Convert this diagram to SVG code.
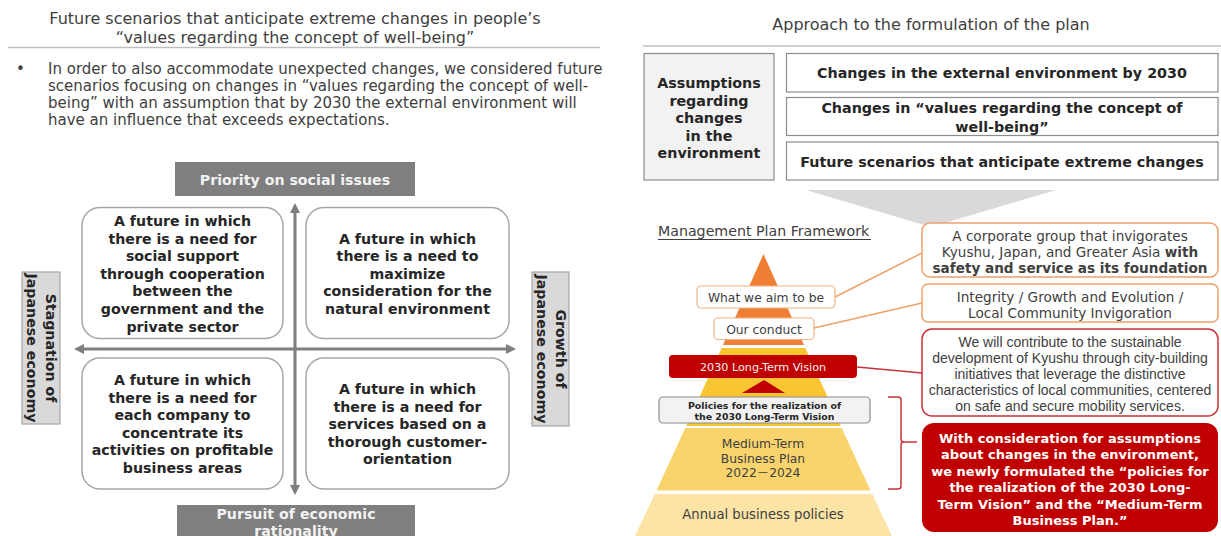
<svg xmlns="http://www.w3.org/2000/svg" width="1221" height="536" viewBox="0 0 1221 536">
  <defs>
    <style>
      .txt { font-family: "DejaVu Sans", "Noto Sans", "Noto Sans CJK JP", sans-serif; fill: #404040; }
      .bold { font-weight: bold; }
      .mid { text-anchor: middle; }
      .title { font-size: 16px; }
      .para { font-size: 15px; }
      .quad-box { fill: #ffffff; stroke: #a6a6a6; stroke-width: 1.5; }
      .quad-txt { font-size: 14.2px; font-weight: bold; fill: #262626; text-anchor: middle; }
      .axis-box { fill: #7f7f7f; }
      .axis-txt { font-size: 14.2px; font-weight: bold; fill: #f2f2f2; text-anchor: middle; }
      .side-box { fill: #d9d9d9; stroke: #a6a6a6; stroke-width: 1.2; }
      .side-txt { font-size: 14.2px; font-weight: bold; fill: #262626; text-anchor: middle; }
      .rule { stroke: #bfbfbf; stroke-width: 1.5; }
      .plain-box { fill: #ffffff; stroke: #8c8c8c; stroke-width: 1.2; }
      .box-txt { font-size: 14.3px; font-weight: bold; fill: #262626; text-anchor: middle; }
      .label-box { fill: #ffffff; stroke: #f4b183; stroke-width: 1.2; }
      .note-orange { fill: #ffffff; stroke: #f0a06a; stroke-width: 1.5; }
      .note-red { fill: #ffffff; stroke: #c8323a; stroke-width: 1.5; }
      .arial { font-family: "Liberation Sans", Arial, sans-serif; }
      .axis { stroke: #7f7f7f; stroke-width: 3; fill: none; }
      .link-orange { stroke: #f0a06a; stroke-width: 1.5; fill: none; }
      .link-red { stroke: #c8323a; stroke-width: 1.5; fill: none; }
    </style>
    <marker id="axisHead" viewBox="0 0 10 10" refX="7" refY="5" markerWidth="3.4" markerHeight="3.4" orient="auto-start-reverse" markerUnits="strokeWidth">
      <path d="M0,0 L10,5 L0,10 Z" fill="#7f7f7f"/>
    </marker>
  </defs>

  <rect x="0" y="0" width="1221" height="536" fill="#ffffff"/>

  <!-- ===== Left panel: future scenarios ===== -->
  <g id="left-heading">
    <text class="txt title mid" x="295" y="23.5">Future scenarios that anticipate extreme changes in people’s</text>
    <text class="txt title mid" x="295" y="43">“values regarding the concept of well-being”</text>
    <line class="rule" x1="8" y1="47.5" x2="600" y2="47.5"/>
  </g>

  <g id="left-bullet">
    <text class="txt para" x="16" y="74">•</text>
    <text class="txt para" x="48" y="74">In order to also accommodate unexpected changes, we considered future</text>
    <text class="txt para" x="48" y="91">scenarios focusing on changes in “values regarding the concept of well-</text>
    <text class="txt para" x="48" y="108">being” with an assumption that by 2030 the external environment will</text>
    <text class="txt para" x="48" y="125">have an influence that exceeds expectations.</text>
  </g>

  <!-- axes -->
  <g id="connectors-axes">
    <line class="axis" x1="295" y1="206" x2="295" y2="492" marker-start="url(#axisHead)" marker-end="url(#axisHead)"/>
    <line class="axis" x1="77" y1="349" x2="513" y2="349" marker-start="url(#axisHead)" marker-end="url(#axisHead)"/>
  </g>

  <g id="axis-top">
    <rect class="axis-box" x="175" y="162" width="240" height="34"/>
    <text class="txt axis-txt" x="295" y="185">Priority on social issues</text>
  </g>
  <g id="axis-bottom">
    <rect class="axis-box" x="177" y="505" width="238" height="40"/>
    <text class="txt axis-txt" x="296" y="518.5">Pursuit of economic</text>
    <text class="txt axis-txt" x="296" y="536">rationality</text>
  </g>
  <g id="axis-left">
    <rect class="side-box" x="22" y="272" width="38" height="152"/>
    <g transform="translate(45.5,348) rotate(90)">
      <text class="txt side-txt" x="0" y="0">Stagnation of</text>
      <text class="txt side-txt" x="0" y="18.5">Japanese economy</text>
    </g>
  </g>
  <g id="axis-right">
    <rect class="side-box" x="532" y="272" width="37" height="154"/>
    <g transform="translate(555.5,349) rotate(90)">
      <text class="txt side-txt" x="0" y="0">Growth of</text>
      <text class="txt side-txt" x="0" y="18.5">Japanese economy</text>
    </g>
  </g>

  <g id="quad-top-left">
    <rect class="quad-box" x="82" y="207.5" width="201" height="131" rx="18"/>
    <text class="txt quad-txt" x="182.5" y="226">A future in which</text>
    <text class="txt quad-txt" x="182.5" y="243.6">there is a need for</text>
    <text class="txt quad-txt" x="182.5" y="261.2">social support</text>
    <text class="txt quad-txt" x="182.5" y="278.8">through cooperation</text>
    <text class="txt quad-txt" x="182.5" y="296.4">between the</text>
    <text class="txt quad-txt" x="182.5" y="314">government and the</text>
    <text class="txt quad-txt" x="182.5" y="331.6">private sector</text>
  </g>
  <g id="quad-top-right">
    <rect class="quad-box" x="306" y="207.5" width="203" height="131" rx="18"/>
    <text class="txt quad-txt" x="407.5" y="243.6">A future in which</text>
    <text class="txt quad-txt" x="407.5" y="261.2">there is a need to</text>
    <text class="txt quad-txt" x="407.5" y="278.8">maximize</text>
    <text class="txt quad-txt" x="407.5" y="296.4">consideration for the</text>
    <text class="txt quad-txt" x="407.5" y="314">natural environment</text>
  </g>
  <g id="quad-bottom-left">
    <rect class="quad-box" x="82" y="358" width="201" height="131" rx="18"/>
    <text class="txt quad-txt" x="182.5" y="385">A future in which</text>
    <text class="txt quad-txt" x="182.5" y="402.6">there is a need for</text>
    <text class="txt quad-txt" x="182.5" y="420.2">each company to</text>
    <text class="txt quad-txt" x="182.5" y="437.8">concentrate its</text>
    <text class="txt quad-txt" x="182.5" y="455.4">activities on profitable</text>
    <text class="txt quad-txt" x="182.5" y="473">business areas</text>
  </g>
  <g id="quad-bottom-right">
    <rect class="quad-box" x="306" y="358" width="203" height="131" rx="18"/>
    <text class="txt quad-txt" x="407.5" y="394">A future in which</text>
    <text class="txt quad-txt" x="407.5" y="411.6">there is a need for</text>
    <text class="txt quad-txt" x="407.5" y="429.2">services based on a</text>
    <text class="txt quad-txt" x="407.5" y="446.8">thorough customer-</text>
    <text class="txt quad-txt" x="407.5" y="464.4">orientation</text>
  </g>

  <!-- ===== Right panel: plan formulation ===== -->
  <g id="right-heading">
    <text class="txt title mid" x="931" y="30">Approach to the formulation of the plan</text>
    <line class="rule" x1="643" y1="46" x2="1221" y2="46"/>
  </g>

  <g id="assumptions">
    <rect x="644" y="53.5" width="130" height="126.5" fill="#f2f2f2" stroke="#8c8c8c" stroke-width="1.2"/>
    <text class="txt box-txt" x="709" y="88">Assumptions</text>
    <text class="txt box-txt" x="709" y="105.5">regarding</text>
    <text class="txt box-txt" x="709" y="123">changes</text>
    <text class="txt box-txt" x="709" y="140.5">in the</text>
    <text class="txt box-txt" x="709" y="158">environment</text>
  </g>
  <g id="change-external">
    <rect class="plain-box" x="786.5" y="53.5" width="431.5" height="38.5"/>
    <text class="txt box-txt" x="1002" y="78">Changes in the external environment by 2030</text>
  </g>
  <g id="change-values">
    <rect class="plain-box" x="786.5" y="97.5" width="431.5" height="38"/>
    <text class="txt box-txt" x="1002" y="113">Changes in “values regarding the concept of</text>
    <text class="txt box-txt" x="1002" y="132">well-being”</text>
  </g>
  <g id="change-scenarios">
    <rect class="plain-box" x="786.5" y="142" width="431.5" height="38"/>
    <text class="txt box-txt" x="1002" y="167">Future scenarios that anticipate extreme changes</text>
  </g>

  <g id="flow-chevron">
    <path d="M806,190 L1056,190 L931,227 Z" fill="#d9d9d9"/>
  </g>

  <g id="framework-title">
    <text class="txt" x="658" y="236" font-size="14.2">Management Plan Framework</text>
    <line x1="658" y1="239.5" x2="871" y2="239.5" stroke="#404040" stroke-width="1"/>
  </g>

  <!-- pyramid bands -->
  <g id="pyramid">
    <path d="M763.5,254 L804,345 L723,345 Z" fill="#ef7f35"/>
    <path d="M721.7,348 L805.3,348 L840.8,426 L686.2,426 Z" fill="#fac533"/>
    <path d="M685.3,428 L841.7,428 L870.5,490.5 L656.5,490.5 Z" fill="#f9d46c"/>
    <path d="M654.7,494 L872.3,494 L892,536 L635,536 Z" fill="#fce4a6"/>
  </g>

  <g id="aim-label">
    <rect class="label-box" x="697" y="286" width="138" height="22" rx="4"/>
    <text class="txt mid" x="766" y="301.5" font-size="12.3">What we aim to be</text>
  </g>
  <g id="conduct-label">
    <rect class="label-box" x="714" y="318" width="100" height="21.5" rx="4"/>
    <text class="txt mid" x="764" y="333.5" font-size="12.3">Our conduct</text>
  </g>
  <g id="vision-label">
    <rect x="669" y="355" width="188" height="23" rx="4" fill="#c00000"/>
    <text class="txt mid" x="763" y="371" font-size="11.2" fill="#f2f2f2" style="fill:#f2f2f2">2030 Long-Term Vision</text>
    <path d="M742,393 L785,393 L764,380 Z" fill="#c00000"/>
  </g>
  <g id="policies-label">
    <rect x="659" y="397" width="211" height="26" rx="4" fill="#f2f2f2" stroke="#8c8c8c" stroke-width="1.2"/>
    <text class="txt bold mid" x="764.5" y="408.5" font-size="9.4" style="fill:#262626">Policies for the realization of</text>
    <text class="txt bold mid" x="764.5" y="420" font-size="9.4" style="fill:#262626">the 2030 Long-Term Vision</text>
  </g>
  <g id="medium-term-label">
    <text class="txt mid" x="763" y="447.5" font-size="12.3">Medium-Term</text>
    <text class="txt mid" x="763" y="462.5" font-size="12.3">Business Plan</text>
    <text class="txt mid" x="763" y="477" font-size="12.3">2022－2024</text>
  </g>
  <g id="annual-label">
    <text class="txt mid" x="763" y="519" font-size="13.2">Annual business policies</text>
  </g>

  <!-- leader lines and bracket -->
  <g id="connectors">
    <line class="link-orange" x1="835" y1="297" x2="922" y2="253"/>
    <line class="link-orange" x1="814" y1="328" x2="922" y2="303"/>
    <line class="link-red" x1="857" y1="367" x2="922" y2="373"/>
    <path class="link-red" d="M888,397 H898 Q901,397 901,400 V439 Q901,442 904,442 H917 M904,442 Q901,442 901,445 V486 Q901,489 898,489 H888"/>
  </g>

  <g id="aim-note">
    <rect class="note-orange" x="922" y="223" width="296" height="54" rx="8"/>
    <text class="txt mid" x="1070" y="241" font-size="13.6">A corporate group that invigorates</text>
    <text class="txt mid" x="1070" y="257" font-size="13.6">Kyushu, Japan, and Greater Asia <tspan class="bold">with</tspan></text>
    <text class="txt bold mid" x="1070" y="272.5" font-size="13.6">safety and service as its foundation</text>
  </g>
  <g id="conduct-note">
    <rect class="note-orange" x="922" y="284" width="296" height="38" rx="6"/>
    <text class="txt mid" x="1070" y="302" font-size="13.6">Integrity / Growth and Evolution /</text>
    <text class="txt mid" x="1070" y="317.5" font-size="13.6">Local Community Invigoration</text>
  </g>
  <g id="vision-note">
    <rect class="note-red" x="922" y="329" width="296" height="87" rx="10"/>
    <text class="txt arial mid" x="1070" y="347" font-size="14">We will contribute to the sustainable</text>
    <text class="txt arial mid" x="1070" y="363" font-size="14">development of Kyushu through city-building</text>
    <text class="txt arial mid" x="1070" y="379" font-size="14">initiatives that leverage the distinctive</text>
    <text class="txt arial mid" x="1070" y="395" font-size="14">characteristics of local communities, centered</text>
    <text class="txt arial mid" x="1070" y="411" font-size="14">on safe and secure mobility services.</text>
  </g>
  <g id="formulation-note">
    <rect x="922" y="423" width="296" height="109" rx="12" fill="#c00000"/>
    <text class="txt bold mid" x="1070" y="442.5" font-size="13" style="fill:#ffffff">With consideration for assumptions</text>
    <text class="txt bold mid" x="1070" y="459" font-size="13" style="fill:#ffffff">about changes in the environment,</text>
    <text class="txt bold mid" x="1070" y="475.7" font-size="13" style="fill:#ffffff">we newly formulated the “policies for</text>
    <text class="txt bold mid" x="1070" y="492.4" font-size="13" style="fill:#ffffff">the realization of the 2030 Long-</text>
    <text class="txt bold mid" x="1070" y="508.5" font-size="13" style="fill:#ffffff">Term Vision” and the “Medium-Term</text>
    <text class="txt bold mid" x="1070" y="525" font-size="13" style="fill:#ffffff">Business Plan.”</text>
  </g>
</svg>
